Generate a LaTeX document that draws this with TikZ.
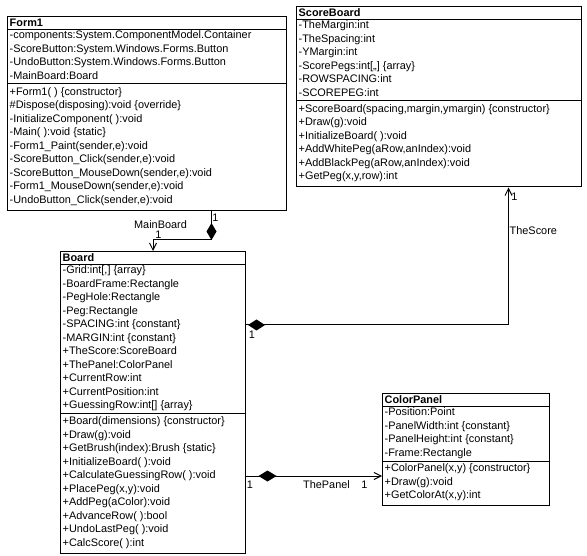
\documentclass[tikz,border=0pt]{standalone}
\usepackage{fontspec}
\setmainfont{Liberation Sans}
\usetikzlibrary{arrows.meta}
\newcommand\umlfont{\fontsize{10.9pt}{13.5pt}\selectfont}
\newcommand\umlrows[4]{\foreach \txt [count=\k from 0] in {#4} {\node[rowtext] (#1\k) at (#2,{#3+\k*13.5+3.8}) {\txt};}}
\tikzset{
  compbox/.style={draw, line width=1pt, inner sep=0pt, anchor=north west},
  rowtext/.style={anchor=base west, inner sep=0pt, font=\umlfont},
  titletext/.style={anchor=base west, inner sep=0pt, font=\umlfont\bfseries},
  conn/.style={draw, line width=1pt, -{Straight Barb[length=7pt,width=7pt]}},
  lbl/.style={inner sep=0pt, font=\umlfont},
  compfill/.style={fill=black},
}
\begin{document}
\begin{tikzpicture}[x=1pt,y=-1pt]
\fill[white] (0,0) rectangle (587,556);
\useasboundingbox (0,0) rectangle (587,556);

% ---------------- Form1 ----------------
\node[compbox, minimum width=279pt, minimum height=13pt] (f1t) at (7,16) {};
\node[compbox, minimum width=279pt, minimum height=54.5pt] (f1a) at (7,29) {};
\node[compbox, minimum width=279pt, minimum height=126.5pt] (f1m) at (7,83.5) {};
\node[titletext] (f1n) at (9.5,26.5) {Form1};
\umlrows{f1a}{9.5}{35}{{-components:System.ComponentModel.Container},{-ScoreButton:System.Windows.Forms.Button},{-UndoButton:System.Windows.Forms.Button},{-MainBoard:Board}}
\umlrows{f1m}{9.5}{91.5}{{+Form1( ) \{constructor\}},{\#Dispose(disposing):void \{override\}},{-InitializeComponent( ):void},{-Main( ):void \{static\}},{-Form1\_Paint(sender,e):void},{-ScoreButton\_Click(sender,e):void},{-ScoreButton\_MouseDown(sender,e):void},{-Form1\_MouseDown(sender,e):void},{-UndoButton\_Click(sender,e):void}}

% ---------------- ScoreBoard ----------------
\node[compbox, minimum width=285pt, minimum height=13pt] (sbt) at (296,6) {};
\node[compbox, minimum width=285pt, minimum height=81.5pt] (sba) at (296,19) {};
\node[compbox, minimum width=285pt, minimum height=86pt] (sbm) at (296,100.5) {};
\node[titletext] (sbn) at (298.5,16.5) {ScoreBoard};
\umlrows{sba}{298.5}{25}{{-TheMargin:int},{-TheSpacing:int},{-YMargin:int},{-ScorePegs:int[,,] \{array\}},{-ROWSPACING:int},{-SCOREPEG:int}}
\umlrows{sbm}{298.5}{108.5}{{+ScoreBoard(spacing,margin,ymargin) \{constructor\}},{+Draw(g):void},{+InitializeBoard( ):void},{+AddWhitePeg(aRow,anIndex):void},{+AddBlackPeg(aRow,anIndex):void},{+GetPeg(x,y,row):int}}

% ---------------- Board ----------------
\node[compbox, minimum width=185pt, minimum height=13pt] (bdt) at (60,251) {};
\node[compbox, minimum width=185pt, minimum height=149pt] (bda) at (60,264) {};
\node[compbox, minimum width=185pt, minimum height=140pt] (bdm) at (60,413) {};
\node[titletext] (bdn) at (62.5,261.5) {Board};
\umlrows{bda}{62.5}{270}{{-Grid:int[,] \{array\}},{-BoardFrame:Rectangle},{-PegHole:Rectangle},{-Peg:Rectangle},{-SPACING:int \{constant\}},{-MARGIN:int \{constant\}},{+TheScore:ScoreBoard},{+ThePanel:ColorPanel},{+CurrentRow:int},{+CurrentPosition:int},{+GuessingRow:int[] \{array\}}}
\umlrows{bdm}{62.5}{421}{{+Board(dimensions) \{constructor\}},{+Draw(g):void},{+GetBrush(index):Brush \{static\}},{+InitializeBoard( ):void},{+CalculateGuessingRow( ):void},{+PlacePeg(x,y):void},{+AddPeg(aColor):void},{+AdvanceRow( ):bool},{+UndoLastPeg( ):void},{+CalcScore( ):int}}

% ---------------- ColorPanel ----------------
\node[compbox, minimum width=167pt, minimum height=13pt] (cpt) at (382,393) {};
\node[compbox, minimum width=167pt, minimum height=54.5pt] (cpa) at (382,406) {};
\node[compbox, minimum width=167pt, minimum height=44pt] (cpm) at (382,460.5) {};
\node[titletext] (cpn) at (384.5,403.5) {ColorPanel};
\umlrows{cpa}{384.5}{412}{{-Position:Point},{-PanelWidth:int \{constant\}},{-PanelHeight:int \{constant\}},{-Frame:Rectangle}}
\umlrows{cpm}{384.5}{468}{{+ColorPanel(x,y) \{constructor\}},{+Draw(g):void},{+GetColorAt(x,y):int}}

% ---------------- MainBoard association ----------------
\coordinate (mbk) at (211.5,240);
\draw[conn] (mbk |- f1m.south) -- (mbk) -- (mbk -| bdt.north) -- (bdt.north);
\coordinate (dmb) at (211.5,231.5);
\fill[compfill] (dmb) +(0,-8.5) -- +(5,0) -- +(0,8.5) -- +(-5,0) -- cycle;
\node[lbl] (mb1) at (215.5,218) {1};
\node[lbl] (mbl) at (160.5,225) {MainBoard};
\node[lbl] (mb2) at (158.5,234.5) {1};

% ---------------- TheScore association ----------------
\coordinate (tsk) at (508.5,325);
\draw[conn] (bda.east |- tsk) -- (tsk) -- (tsk |- sbm.south);
\coordinate (dts) at (256.5,325);
\fill[compfill] (dts) +(-8.5,0) -- +(0,5.5) -- +(8.5,0) -- +(0,-5.5) -- cycle;
\node[lbl] (ts1) at (252,335) {1};
\node[lbl] (ts2) at (514.5,197) {1};
\node[lbl, anchor=west] (tsl) at (509.5,231) {TheScore};

% ---------------- ThePanel association ----------------
\coordinate (tpk) at (300,476);
\draw[conn] (bdm.east |- tpk) -- (tpk -| cpm.west);
\coordinate (dtp) at (267.5,476);
\fill[compfill] (dtp) +(-9,0) -- +(0,5.5) -- +(9,0) -- +(0,-5.5) -- cycle;
\node[lbl] (tp1) at (250,485) {1};
\node[lbl] (tpl) at (326.5,485) {ThePanel};
\node[lbl] (tp2) at (364.5,485) {1};
\end{tikzpicture}
\end{document}
